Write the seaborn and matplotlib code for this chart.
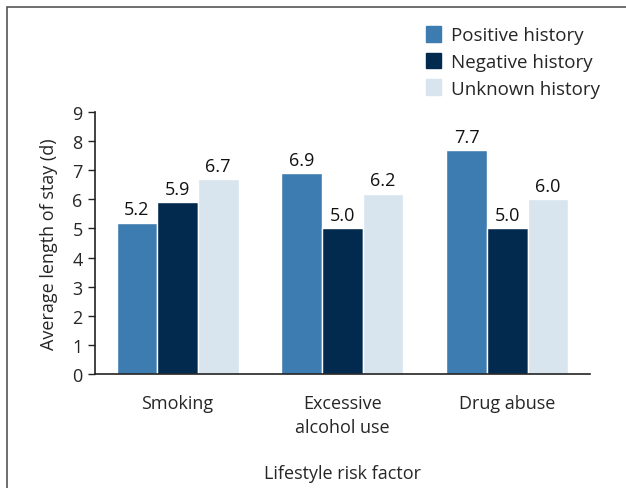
import matplotlib
matplotlib.use('Agg')

import matplotlib.pyplot as plt
import matplotlib.patches as mpatches
import seaborn as sns
import pandas as pd

# dados
fatores = ["Smoking", "Excessive\nalcohol use", "Drug abuse"]
historicos = ["Positive history", "Negative history", "Unknown history"]
positivo = [5.2, 6.9, 7.7]
negativo = [5.9, 5.0, 5.0]
desconhecido = [6.7, 6.2, 6.0]
cores = ["#3d7cb0", "#022a4f", "#d8e4ee"]
ticks_y = list(range(0, 10))

df = pd.DataFrame({
    "fator": fatores * 3,
    "historico": [h for h in historicos for _ in fatores],
    "valor": positivo + negativo + desconhecido,
})

sns.set_style("white")
plt.rcParams['font.family'] = ['Open Sans', 'DejaVu Sans']

fig = plt.figure(figsize=(6.26, 4.89), dpi=100)
ax = fig.add_axes([0.152, 0.233, 0.79, 0.536])

sns.barplot(data=df, x="fator", y="valor", hue="historico", order=fatores,
            hue_order=historicos, palette=cores, width=0.74, gap=0,
            edgecolor="white", linewidth=1, saturation=1, legend=False, ax=ax)

for cont in ax.containers:
    ax.bar_label(cont, fmt="%.1f", padding=3, fontsize=13, color="#111111")

ax.set_ylim(0, 9)
ax.set_xlim(-0.5, 2.5)
ax.set_yticks(ticks_y)
ax.set_yticklabels([str(t) for t in ticks_y], fontsize=13)
ax.set_xticks([0, 1, 2])
ax.set_xticklabels(fatores, fontsize=13, linespacing=1.45)
ax.set_xticks([-0.5, 0.5, 1.5, 2.5], minor=True)
ax.tick_params(axis="x", which="major", length=0, pad=14)
ax.tick_params(axis="x", which="minor", length=6, width=1, direction="out", color="#222222")
ax.tick_params(axis="y", length=5, width=1, direction="out", color="#222222", pad=4, left=True)

ax.set_xlabel("Lifestyle risk factor", fontsize=13, labelpad=20)
ax.set_ylabel("Average length of stay (d)", fontsize=13, labelpad=10)

for lado in ["top", "right"]:
    ax.spines[lado].set_visible(False)
for lado in ["left", "bottom"]:
    ax.spines[lado].set_color("#222222")
    ax.spines[lado].set_linewidth(1.2)

handles = [mpatches.Patch(color=c, label=h) for c, h in zip(cores, historicos)]
fig.legend(handles=handles, loc="upper left", bbox_to_anchor=(0.668, 0.96),
           frameon=False, fontsize=13.5, handlelength=0.8, handleheight=0.9,
           handletextpad=0.55, labelspacing=0.45, borderaxespad=0)

# moldura cortada a direita e em baixo
moldura = mpatches.Rectangle((0.011, -0.1), 1.1, 1.083, transform=fig.transFigure,
                             fill=False, edgecolor="#555555", linewidth=1.2)
fig.patches.append(moldura)

plt.savefig("out.png", dpi=100)
plt.close()
